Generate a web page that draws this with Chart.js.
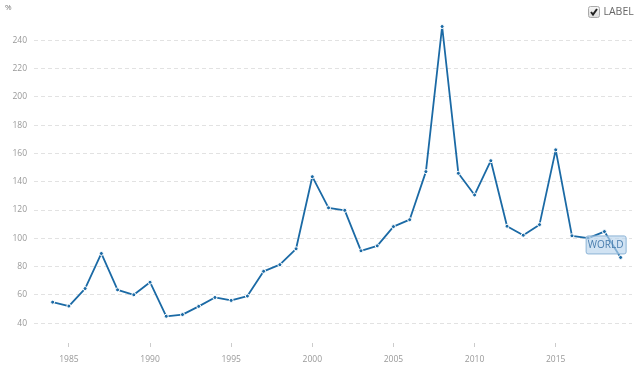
<!DOCTYPE html>
<html>
<head>
<meta charset="utf-8">
<script src="https://cdn.jsdelivr.net/npm/chart.js@4"></script>
<style>
  html, body { margin: 0; padding: 0; background: #fff; }
  #wrap { width: 640px; height: 372px; }
</style>
</head>
<body>
<div id="wrap"><canvas id="chart"></canvas></div>
<script>
const years = [1984, 1985, 1986, 1987, 1988, 1989, 1990, 1991, 1992, 1993, 1994, 1995, 1996, 1997, 1998, 1999,
               2000, 2001, 2002, 2003, 2004, 2005, 2006, 2007, 2008, 2009, 2010, 2011, 2012, 2013, 2014, 2015,
               2016, 2017, 2018, 2019];
const values = [54.9, 52.1, 64.5, 89.3, 63.6, 60.1, 69, 44.9, 46.1, 51.9, 58.2, 56.1, 59.2, 76.7, 81.4, 92.6,
                143.6, 121.6, 119.8, 91.2, 94.7, 108.3, 113.2, 147.2, 249.8, 146, 130.7, 154.9, 108.6, 102.2, 109.7, 162.6,
                101.8, 100.2, 104.8, 86.5];
const xTicks = [1985, 1990, 1995, 2000, 2005, 2010, 2015];
const yTicks = [40, 60, 80, 100, 120, 140, 160, 180, 200, 220, 240];
const seriesName = 'WORLD';
const legendText = 'LABEL';
const unitText = '%';

const lineColor = '#1b6aa5';
const FONT = '"Open Sans", sans-serif';

// legend (checkbox + text), unit label and the series tag
const extras = {
    id: 'extras',
    afterDraw(chart) {
        const ctx = chart.ctx;
        ctx.save();

        ctx.font = '8px ' + FONT;
        ctx.fillStyle = '#777';
        ctx.textBaseline = 'middle';
        ctx.textAlign = 'left';
        ctx.fillText(unitText, 5, 8);

        // checkbox
        const bx = 588.5, by = 6.5, bs = 11;
        const g = ctx.createLinearGradient(0, by, 0, by + bs);
        g.addColorStop(0, '#f6f6f6');
        g.addColorStop(1, '#dcdcdc');
        ctx.beginPath();
        ctx.roundRect(bx, by, bs, bs, 2);
        ctx.fillStyle = g;
        ctx.fill();
        ctx.strokeStyle = '#aaa';
        ctx.lineWidth = 1;
        ctx.stroke();
        ctx.beginPath();
        ctx.moveTo(bx + 2.5, by + 5.5);
        ctx.lineTo(bx + 4.5, by + 8);
        ctx.lineTo(bx + 8.5, by + 2.5);
        ctx.strokeStyle = '#222';
        ctx.lineWidth = 2;
        ctx.stroke();

        ctx.font = '10.5px ' + FONT;
        ctx.fillStyle = '#666';
        ctx.fillText(legendText, 603.5, 12.5);

        // series tag near the last point
        const pts = chart.getDatasetMeta(0).data;
        const last = pts[pts.length - 1];
        const cx = last.x - 15, cy = last.y - 13;
        const w = 40, h = 18;
        ctx.beginPath();
        ctx.roundRect(cx - w / 2 + 0.5, cy - h / 2 + 0.5, w, h, 2);
        ctx.fillStyle = 'rgba(185, 212, 236, 0.65)';
        ctx.fill();
        ctx.strokeStyle = '#8db4d6';
        ctx.lineWidth = 1;
        ctx.stroke();
        ctx.font = '10px ' + FONT;
        ctx.fillStyle = '#4a7eae';
        ctx.textAlign = 'center';
        ctx.fillText(seriesName, cx, cy + 1);

        ctx.restore();
    }
};

new Chart(document.getElementById('chart').getContext('2d'), {
    type: 'line',
    data: {
        datasets: [{
            label: seriesName,
            data: years.map((y, i) => ({ x: y, y: values[i] })),
            borderColor: lineColor,
            borderWidth: 1.8,
            borderJoinStyle: 'round',
            pointRadius: 2,
            pointBackgroundColor: lineColor,
            pointBorderColor: '#fff',
            pointBorderWidth: 1,
            tension: 0,
            fill: false
        }]
    },
    options: {
        responsive: true,
        maintainAspectRatio: false,
        animation: false,
        layout: { padding: { top: 9.5, right: 8, left: 0, bottom: 0 } },
        plugins: {
            legend: { display: false },
            tooltip: { enabled: false }
        },
        scales: {
            x: {
                type: 'linear',
                min: 1982.85,
                max: 2019.7,
                afterBuildTicks: s => { s.ticks = xTicks.map(v => ({ value: v })); },
                afterFit: s => { s.height = 29; },
                border: { display: false },
                grid: { drawOnChartArea: false, drawTicks: true, tickLength: 4, tickColor: '#ccc' },
                ticks: {
                    font: { family: FONT, size: 8.5 },
                    color: '#999',
                    padding: 7,
                    maxRotation: 0,
                    callback: v => String(v)
                }
            },
            y: {
                min: 26,
                max: 260,
                afterBuildTicks: s => { s.ticks = yTicks.map(v => ({ value: v })); },
                afterFit: s => { s.width = 34; },
                border: { display: false, dash: [4, 3] },
                grid: { color: '#e2e2e2', drawTicks: false, lineWidth: 1 },
                ticks: {
                    font: { family: FONT, size: 8.5 },
                    color: '#999',
                    padding: 7
                }
            }
        }
    },
    plugins: [extras]
});
</script>
</body>
</html>
